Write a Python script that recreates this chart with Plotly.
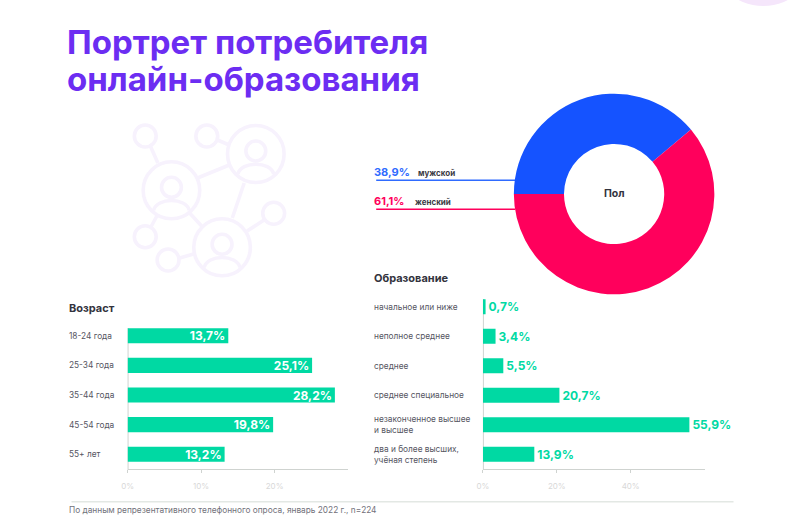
import plotly.graph_objects as go

W, H = 800, 519
FONT = "Inter"
GREEN = "#00d9a3"
TITLE_LINES = ["Портрет потребителя", "онлайн-образования"]

gender_labels = ["мужской", "женский"]
gender_values = [38.9, 61.1]
gender_colors = ["#1553ff", "#ff005c"]

age_labels = ["18-24 года", "25-34 года", "35-44 года", "45-54 года", "55+ лет"]
age_values = [13.7, 25.1, 28.2, 19.8, 13.2]
age_ticks = [0, 10, 20]

edu_labels = ["начальное или ниже", "неполное среднее", "среднее", "среднее специальное",
              "незаконченное высшее<br>и высшее", "два и более высших,<br>учёная степень"]
edu_values = [0.7, 3.4, 5.5, 20.7, 55.9, 13.9]
edu_ticks = [0, 20, 40]

FOOTNOTE = "По данным репрезентативного телефонного опроса, январь 2022 г., n=224"


def px(x):
    return x / W


def py(y):
    return 1 - y / H


fig = go.Figure()

fig.add_trace(go.Pie(
    labels=gender_labels, values=gender_values, hole=0.5, sort=False, direction="clockwise",
    rotation=270, marker=dict(colors=gender_colors, line=dict(width=0)), textinfo="none",
    domain=dict(x=[px(511.7), px(713.7)], y=[py(295), py(93)]), showlegend=False))

fig.add_trace(go.Bar(
    x=age_values, y=age_labels, orientation="h", xaxis="x", yaxis="y", marker=dict(color=GREEN, line=dict(width=0)),
    width=0.51, text=age_values, texttemplate="%{x:.1f}%", textposition="inside", insidetextanchor="end",
    textangle=0, constraintext="none", cliponaxis=False,
    textfont=dict(family=FONT, size=12, color="white", weight=700), showlegend=False))

fig.add_trace(go.Bar(
    x=edu_values, y=edu_labels, orientation="h", xaxis="x2", yaxis="y2", marker=dict(color=GREEN, line=dict(width=0)),
    width=0.51, text=edu_values, texttemplate="%{x:.1f}%", textposition="outside",
    textangle=0, constraintext="none", cliponaxis=False,
    textfont=dict(family=FONT, size=12, color=GREEN, weight=700), showlegend=False))

AXIS = "#cfd3d0"
xcommon = dict(showgrid=False, zeroline=False, showline=True, linecolor=AXIS, linewidth=1, ticks="outside",
               ticklen=3, tickcolor=AXIS, ticklabelstandoff=6,
               tickfont=dict(family=FONT, size=8, color="#d8d8d8"))
ycommon = dict(showgrid=False, zeroline=False, showline=False,
               showticklabels=False, ticks="", autorange="reversed", type="category")

annotations = []


def note(x, y, text, size, color, weight=400, xanchor="left", yref="paper", align="left"):
    annotations.append(dict(
        x=px(x), y=y if yref != "paper" else py(y), xref="paper", yref=yref, text=text, showarrow=False,
        xanchor=xanchor, yanchor="middle", align=align,
        font=dict(family=FONT, size=size, color=color, weight=weight)))


note(59.5, 42.5, TITLE_LINES[0], 33, "#6c2df2", 700)
note(59.5, 79.5, TITLE_LINES[1], 33, "#6c2df2", 700)
note(369, 172, "38,9%", 11, "#2f6bff", 700)
note(413, 173, gender_labels[0], 8, "#3a3a44", 700)
note(369, 201, "61,1%", 11, "#ff005c", 700)
note(410, 202, gender_labels[1], 8, "#3a3a44", 700)
note(612.7, 193.5, "Пол", 10.5, "#33333d", 700, xanchor="center")
note(369, 278, "Образование", 11, "#33333d", 700)
note(61, 307.5, "Возраст", 11, "#33333d", 700)
for lab in age_labels:
    note(61.5, lab, lab, 8.3, "#55555f", yref="y")
for lab in edu_labels:
    note(369, lab, lab, 8.3, "#55555f", yref="y2")
note(61.5, 509.5, FOOTNOTE, 8.3, "#71717a")


def pline(x0, y0, x1, y1, color, width):
    return dict(type="line", xref="paper", yref="paper", x0=px(x0), y0=py(y0), x1=px(x1), y1=py(y1),
                line=dict(color=color, width=width), layer="below")


def pcircle(cx, cy, r, color, width=0, fill=None):
    return dict(type="circle", xref="paper", yref="paper", x0=px(cx - r), x1=px(cx + r), y0=py(cy - r), y1=py(cy + r),
                line=dict(color=color, width=width), fillcolor=fill or "rgba(0,0,0,0)", layer="below")


shapes = [
    pcircle(763, -48, 54, "#f5e6fb", 0, "#f5e6fb"),
    pline(373, 180.3, 513, 180.3, "#2f6bff", 1.5),
    pline(373, 209.3, 513, 209.3, "#ff005c", 1.5),
    pline(66, 501.7, 733, 501.7, "#e3e8e4", 1.5),
    pline(123, 328, 123, 470, AXIS, 1),
    pline(481, 299, 481, 470, AXIS, 1),
]

ICON = "#f7f2fd"
for cx, cy in [(166.7, 190.3), (251.7, 154), (217.7, 247.3)]:
    shapes.append(pcircle(cx, cy, 28.5, ICON, 3.6))
    shapes.append(pcircle(cx, cy - 3, 10, ICON, 3.6))
    x0, x1 = px(cx - 18), px(cx + 18)
    shapes.append(dict(
        type="path", xref="paper", yref="paper", layer="below", line=dict(color=ICON, width=3.6),
        path=f"M {x0} {py(cy + 20)} C {px(cx - 15)} {py(cy + 7)}, {px(cx + 15)} {py(cy + 7)}, {x1} {py(cy + 20)}"))
for cx, cy in [(140.3, 136), (202.3, 136), (140.3, 236.7), (163.3, 260), (269.7, 213.3)]:
    shapes.append(pcircle(cx, cy, 11, ICON, 3.6))
for a, b, c, d in [(145, 145, 153, 163), (213, 140, 225, 145), (193, 178, 225, 165), (240, 183, 228, 218),
                   (185, 213, 198, 227), (152, 216, 146, 227), (175, 258, 189, 254), (243, 231, 260, 220)]:
    shapes.append(pline(a, b, c, d, ICON, 3.6))

fig.update_layout(
    width=W, height=H, margin=dict(l=0, r=0, t=0, b=0), paper_bgcolor="white", plot_bgcolor="rgba(0,0,0,0)",
    separators=", ", bargap=0.49, annotations=annotations, shapes=shapes, font=dict(family=FONT),
    xaxis=dict(domain=[px(122.5), px(344.7)], range=[0, 30], tickvals=age_ticks,
               ticktext=[f"{v}%" for v in age_ticks], anchor="y", **xcommon),
    yaxis=dict(domain=[py(469), py(321)], anchor="x", **ycommon),
    xaxis2=dict(domain=[px(480.6), px(703.8)], range=[0, 60], tickvals=edu_ticks,
                ticktext=[f"{v}%" for v in edu_ticks], anchor="y2", **xcommon),
    yaxis2=dict(domain=[py(469), py(292)], anchor="x2", **ycommon),
)

fig.write_html("out.html", config=dict(displayModeBar=False),
               post_script="document.body.style.margin='0';document.documentElement.style.overflow='hidden';")
